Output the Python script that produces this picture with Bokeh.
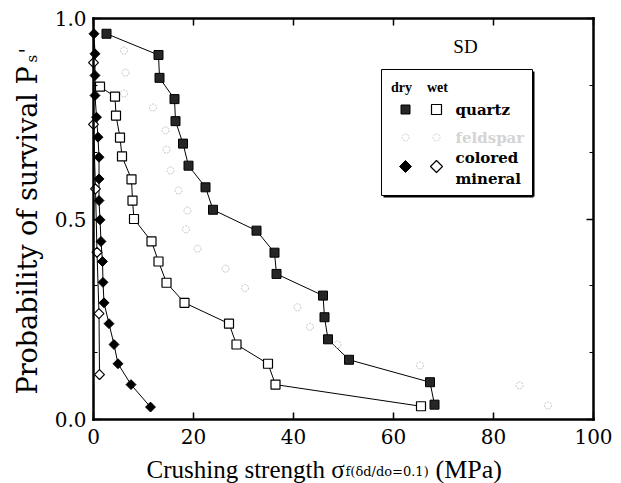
import numpy as np
from bokeh.plotting import figure
from bokeh.models import (Range1d, LinearAxis, FixedTicker, PrintfTickFormatter,
                          CustomJSTickFormatter, Label)
from bokeh.embed import file_html
from bokeh.resources import INLINE

# ---- crushing strength (MPa) vs probability of survival ----
quartz_dry_x = [2.6, 13.0, 13.2, 16.2, 16.4, 17.9, 19.0, 22.4, 23.9, 32.6, 36.2, 36.6,
                45.9, 46.2, 46.9, 51.1, 67.3, 68.2]
quartz_dry_p = [0.962, 0.909, 0.852, 0.799, 0.744, 0.688, 0.633, 0.579, 0.523, 0.471,
                0.416, 0.363, 0.309, 0.255, 0.200, 0.149, 0.093, 0.037]

quartz_wet_x = [1.3, 4.3, 4.5, 5.3, 5.7, 7.6, 7.8, 8.1, 11.6, 13.0, 14.6, 18.2, 27.1,
                28.6, 34.9, 36.4, 65.5]
quartz_wet_p = [0.830, 0.805, 0.758, 0.703, 0.656, 0.599, 0.546, 0.500, 0.444, 0.394,
                0.341, 0.291, 0.239, 0.187, 0.139, 0.087, 0.033]

feldspar_x = [6.1, 6.4, 6.1, 11.9, 14.4, 14.6, 15.4, 17.0, 18.8, 18.5, 20.8, 26.4, 30.3,
              40.8, 43.3, 48.8, 65.3, 85.2, 90.9]
feldspar_p = [0.920, 0.865, 0.813, 0.778, 0.721, 0.673, 0.621, 0.571, 0.521, 0.474, 0.426,
              0.376, 0.328, 0.280, 0.231, 0.187, 0.135, 0.085, 0.035]

colored_dry_x = [0.1, 0.3, 0.3, 0.3, 0.6, 0.9, 1.1, 1.1, 1.1, 1.3, 1.5, 1.8, 1.9, 2.1,
                 3.1, 4.1, 4.9, 7.5, 11.4]
colored_dry_p = [0.962, 0.912, 0.858, 0.808, 0.754, 0.704, 0.654, 0.600, 0.546, 0.498,
                 0.444, 0.394, 0.342, 0.291, 0.239, 0.187, 0.139, 0.087, 0.031]

colored_wet_x = [0.0, 0.0, 0.4, 0.7, 1.1, 1.2]
colored_wet_p = [0.890, 0.736, 0.575, 0.417, 0.264, 0.112]

x_ticks = [0, 20, 40, 60, 80, 100]
y_ticks = [0.0, 0.5, 1.0]
y_minor = [1 / 6, 2 / 6, 4 / 6, 5 / 6]

SERIF = "DejaVu Serif"
TIMES = "Liberation Serif"

# Canvas geometry: the axes box sits at these pixel edges; the drawing area spans
# the whole canvas so that axis titles can be placed as free labels.
W, H = 621, 483
BOX_L, BOX_R, BOX_T, BOX_B = 93, 593, 18, 419
XMIN, XMAX, YMIN, YMAX = 0.0, 100.0, 0.0, 1.0
sx = (XMAX - XMIN) / (BOX_R - BOX_L)
sy = (YMAX - YMIN) / (BOX_B - BOX_T)
x_range = Range1d(XMIN - BOX_L * sx, XMAX + (W - BOX_R) * sx)
y_range = Range1d(YMIN - (H - BOX_B) * sy, YMAX + BOX_T * sy)


def px(xp):
    """Horizontal canvas pixel -> data x."""
    return XMIN + (xp - BOX_L) * sx


def py(yp):
    """Vertical canvas pixel (from top) -> data y."""
    return YMIN + (BOX_B - yp) * sy


p = figure(width=W, height=H, x_range=x_range, y_range=y_range,
           output_backend="svg", toolbar_location=None,
           min_border=0, x_axis_type=None, y_axis_type=None)
p.grid.visible = False
p.outline_line_color = None
p.background_fill_color = "white"
p.border_fill_color = "white"

blank = CustomJSTickFormatter(code="return ''")


def style_axis(ax):
    ax.axis_line_width = 2.5
    ax.axis_line_color = "black"
    ax.axis_line_cap = "square"
    ax.major_tick_in = 7
    ax.major_tick_out = 0
    ax.minor_tick_in = 4
    ax.minor_tick_out = 0
    ax.major_tick_line_width = 1.5
    ax.minor_tick_line_width = 1.2
    ax.major_label_text_font = SERIF
    ax.major_label_text_font_size = "20px"
    ax.major_label_text_color = "black"


xb = LinearAxis(ticker=FixedTicker(ticks=x_ticks), fixed_location=YMIN, bounds=(XMIN, XMAX))
xb.major_label_standoff = 9
style_axis(xb)
p.add_layout(xb, "below")

xt = LinearAxis(ticker=FixedTicker(ticks=x_ticks), formatter=blank,
                fixed_location=YMAX, bounds=(XMIN, XMAX))
style_axis(xt)
p.add_layout(xt, "above")

yl = LinearAxis(ticker=FixedTicker(ticks=y_ticks, minor_ticks=y_minor),
                formatter=PrintfTickFormatter(format="%.1f"),
                fixed_location=XMIN, bounds=(YMIN, YMAX))
yl.major_label_standoff = 7
style_axis(yl)
p.add_layout(yl, "left")

yr = LinearAxis(ticker=FixedTicker(ticks=y_ticks, minor_ticks=y_minor), formatter=blank,
                fixed_location=XMAX, bounds=(YMIN, YMAX))
style_axis(yr)
p.add_layout(yr, "right")

# ---- data series ----
p.line(quartz_dry_x, quartz_dry_p, line_color="black", line_width=1)
p.line(quartz_wet_x, quartz_wet_p, line_color="black", line_width=1)
p.line(colored_dry_x, colored_dry_p, line_color="black", line_width=1)
p.line(colored_wet_x, colored_wet_p, line_color="black", line_width=1)

p.scatter(feldspar_x, feldspar_p, marker="circle", size=7, fill_color=None,
          line_color="#c4c4c4", line_width=1, line_dash="2 1")
p.scatter(quartz_wet_x, quartz_wet_p, marker="square", size=9, fill_color="white",
          line_color="black", line_width=1.2)
p.scatter(quartz_dry_x, quartz_dry_p, marker="square", size=9, fill_color="#262626",
          line_color="black", line_width=1)
p.scatter(colored_wet_x, colored_wet_p, marker="square", angle=np.pi / 4, size=7,
          fill_color="white", line_color="black", line_width=1.2)
p.scatter(colored_dry_x, colored_dry_p, marker="square", angle=np.pi / 4, size=7,
          fill_color="black", line_color="black", line_width=1)

# ---- legend box ----
p.quad(left=[px(381)], right=[px(532)], top=[py(69)], bottom=[py(195)],
       fill_color="white", line_color="black", line_width=1)
p.line([px(533), px(533)], [py(71), py(196)], line_color="black", line_width=2)
p.line([px(383), px(533)], [py(196), py(196)], line_color="black", line_width=2)

for txt, lx in (("dry", 401), ("wet", 437)):
    p.add_layout(Label(x=px(lx), y=py(87), text=txt, text_font=TIMES,
                       text_font_style="bold", text_font_size="14px", text_color="black",
                       text_align="center", text_baseline="middle"))

leg_dry_x, leg_wet_x = px(405), px(436)
p.scatter([leg_dry_x], [py(109)], marker="square", size=9, fill_color="#262626",
          line_color="black")
p.scatter([leg_wet_x], [py(109)], marker="square", size=10, fill_color="white",
          line_color="black", line_width=1.2)
p.scatter([leg_dry_x, leg_wet_x], [py(137), py(137)], marker="circle", size=7,
          fill_color=None, line_color="#d0d0d0", line_dash="2 1")
p.scatter([leg_dry_x], [py(166)], marker="square", angle=np.pi / 4, size=8.5,
          fill_color="black", line_color="black")
p.scatter([leg_wet_x], [py(166)], marker="square", angle=np.pi / 4, size=8.5,
          fill_color="white", line_color="black", line_width=1.2)

for txt, ly, col in (("quartz", 109, "black"), ("feldspar", 137, "#d4d4d4"),
                     ("colored", 157, "black"), ("mineral", 178, "black")):
    p.add_layout(Label(x=px(455), y=py(ly), text=txt, text_font=SERIF,
                       text_font_style="bold", text_font_size="15px", text_color=col,
                       text_baseline="middle"))

p.add_layout(Label(x=px(465), y=py(46), text="SD", text_font=TIMES, text_font_size="19px",
                   text_color="black", text_align="center", text_baseline="middle"))

# ---- axis titles ----
p.add_layout(Label(x=px(146), y=py(469), text="Crushing strength σ", text_font=TIMES,
                   text_font_size="25px", text_color="black", text_baseline="alphabetic"))
p.add_layout(Label(x=px(345), y=py(471), text="f(δd/do=0.1)", text_font=SERIF,
                   text_font_size="13px", text_color="black", text_baseline="alphabetic"))
p.add_layout(Label(x=px(435), y=py(469), text="(MPa)", text_font=TIMES,
                   text_font_size="26px", text_color="black", text_baseline="alphabetic"))

p.add_layout(Label(x=px(27), y=py(394), text="Probability of survival P", angle=np.pi / 2,
                   text_font=SERIF, text_font_size="27px", text_color="black",
                   text_baseline="alphabetic"))
p.add_layout(Label(x=px(31), y=py(62), text="s", angle=np.pi / 2,
                   text_font=SERIF, text_font_size="15px", text_color="black",
                   text_baseline="alphabetic"))
p.add_layout(Label(x=px(26), y=py(53), text="'", angle=np.pi / 2,
                   text_font=SERIF, text_font_size="20px", text_color="black",
                   text_baseline="alphabetic"))

open("out.html", "w").write(file_html(p, INLINE))
